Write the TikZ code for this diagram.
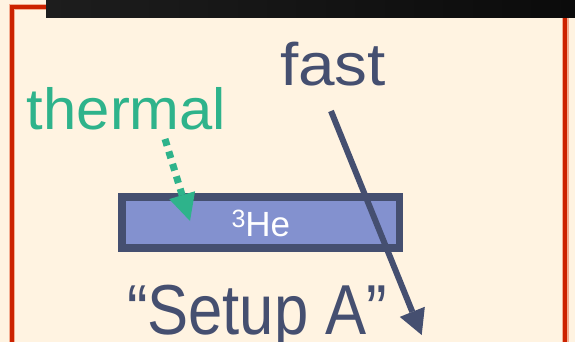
\documentclass[tikz,border=0pt]{standalone}
\usepackage{fontspec}
\setmainfont{Liberation Sans}
\usetikzlibrary{arrows.meta}
\definecolor{cream}{HTML}{FFF3E1}
\definecolor{framered}{HTML}{CC2200}
\definecolor{framehalo}{HTML}{F3AE92}
\definecolor{slate}{HTML}{454F70}
\definecolor{thermalgreen}{HTML}{2EB38B}
\definecolor{boxfill}{HTML}{8391CF}
\definecolor{bandleft}{HTML}{1D1D1D}
\definecolor{bandright}{HTML}{0B0B0B}
\begin{document}
\begin{tikzpicture}[x=1pt,y=-1pt,
  lbl/.style={inner sep=0pt, outer sep=0pt, anchor=base west},
  heliumbox/.style={draw=slate, fill=boxfill, line width=7.5pt, inner sep=0pt,
    minimum width=277.5pt, minimum height=51pt},
  fastarrow/.style={draw=slate, line width=6pt,
    -{Triangle[length=25pt,width=27pt,line width=0pt]}},
  thermalarrow/.style={draw=thermalgreen, line width=7pt, dash pattern=on 7pt off 6pt,
    -{Triangle[length=27pt,width=27pt,line width=0pt]}}
]
\clip (0,0) rectangle (575,342);
\useasboundingbox (0,0) rectangle (575,342);
\fill[cream] (0,0) rectangle (575,342);
% frame
\draw[framehalo, line width=6.5pt] (12,7) rectangle (565.3,400);
\draw[framered, line width=4pt] (12,7) rectangle (565.3,400);
% dark band
\shade[left color=bandleft, right color=bandright] (46,0) rectangle (575,17.7);
% helium box
\node[heliumbox] (box) at (260.8,222.5) {};
\node[lbl, text=white] (he) at (231.5,236.8)
  {\fontsize{35}{35}\selectfont\raisebox{9pt}{\fontsize{25}{25}\selectfont 3}He};
% labels
\node[lbl, text=slate] (fast) at (280,86)
  {\scalebox{1.095}[1]{\fontsize{60}{60}\selectfont fast}};
\node[lbl, text=thermalgreen] (thermal) at (27,129)
  {\scalebox{1.03}[1]{\fontsize{58}{58}\selectfont thermal}};
\node[lbl, text=slate] (setup) at (127,334.5)
  {\scalebox{1.01}[1.16]{\fontsize{61}{61}\selectfont “Setup A”}};
% arrows
\coordinate (fs) at (331,111);
\coordinate (fe) at (421.7,335);
\coordinate (ts) at (165,139);
\coordinate (te) at (190,221);
\draw[thermalarrow] (ts) -- (te);
\draw[fastarrow] (fs) -- (fe);
\end{tikzpicture}
\end{document}
